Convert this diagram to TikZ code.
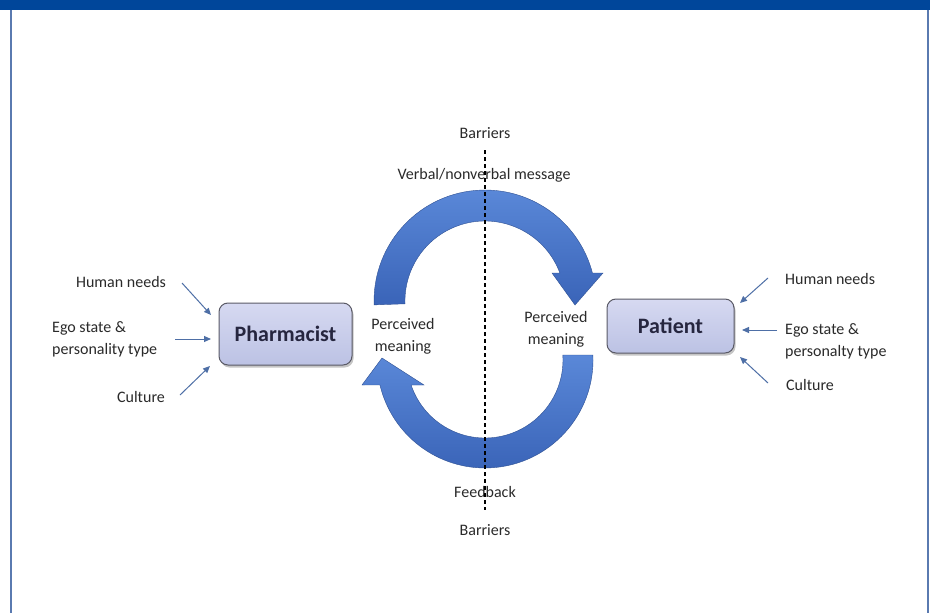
\documentclass[tikz,border=0pt]{standalone}
\usepackage{fontspec}
\setmainfont{Carlito}
\usetikzlibrary{arrows.meta,shadows}
\definecolor{hdr}{HTML}{00469A}
\definecolor{frame}{HTML}{5A7AB0}
\definecolor{arrblue}{HTML}{4472C4}
\definecolor{arrlight}{HTML}{5A88D8}
\definecolor{arrdark}{HTML}{3A64B8}
\definecolor{infl}{HTML}{4E6FA6}
\definecolor{boxfill}{HTML}{C9CDEA}
\definecolor{boxtop}{HTML}{D6D9F1}
\definecolor{boxbot}{HTML}{BCC2E4}
\definecolor{boxline}{HTML}{5A5A66}
\definecolor{txt}{HTML}{2A2A2A}
\begin{document}
\begin{tikzpicture}[x=1pt,y=-1pt,
  lbl/.style={font=\fontsize{16}{22}\selectfont, text=txt, inner sep=0pt},
  actor/.style={draw=boxline, line width=1pt, rounded corners=9pt,
    top color=boxtop, bottom color=boxbot, text=txt!90!blue,
    font=\fontsize{22}{26}\selectfont\bfseries,
    drop shadow={shadow xshift=1.5pt, shadow yshift=-2.5pt, opacity=0.45}},
  inflarrow/.style={draw=infl, line width=1pt, -{Triangle[length=7pt,width=6pt]}},
  bigarrow/.style={top color=arrlight, bottom color=arrdark, draw=arrdark!80!black, line width=0.4pt},
  barrierline/.style={draw=black, line width=1.3pt, dash pattern=on 4pt off 3pt}
]
\useasboundingbox (0,0) rectangle (930,613);
\fill[white] (0,0) rectangle (930,613);
% header and frame
\fill[hdr] (0,0) rectangle (930,10);
\draw[frame, line width=1.2pt] (11,10) -- (11,613);
\draw[frame, line width=1.2pt] (928,10) -- (928,613);

% big circular arrows
\path[bigarrow] (374.1,304.9) arc[start angle=178, end angle=345.39, radius=111]
  -- (603,273) -- (575,305) -- (552,273) -- (559.9,273)
  arc[start angle=339.51, end angle=178, radius=80] -- cycle;
\path[bigarrow] (592.9,355) arc[start angle=-2.65, end angle=166.62, radius=108]
  -- (362,385) -- (382,358) -- (424,385) -- (411.1,385)
  arc[start angle=161.31, end angle=-3.67, radius=78] -- cycle;

% actors
\node[actor, minimum width=133pt, minimum height=62pt] (pharm) at (285.5,334) {Pharmacist};
\node[actor, minimum width=127pt, minimum height=54pt] (pat) at (670.5,326) {Patient};

% texts around the loop
\node[lbl] (barT) at (485,133) {Barriers};
\node[lbl] (verbal) at (484,175) {Verbal/nonverbal message};
\node[lbl, align=center] (pmL) at (403,336) {Perceived\\meaning};
\node[lbl, align=center] (pmR) at (556,329) {Perceived\\meaning};
\node[lbl] (feed) at (485,492) {Feedback};
\node[lbl] (barB) at (485,530) {Barriers};

% barrier line
\coordinate (lineTop) at (485,150);
\coordinate (lineBot) at (485,510);
\draw[barrierline] (lineTop) -- (lineBot);

% left influences
\node[lbl] (hnL) at (121,282) {Human needs};
\node[lbl, align=left, anchor=west] (egoL) at (52,339) {Ego state \&\\personality type};
\node[lbl] (cuL) at (141,397) {Culture};
\coordinate (hnLs) at (182,283); \coordinate (hnLe) at (211,315);
\coordinate (egLs) at (175,339); \coordinate (egLe) at (211,339);
\coordinate (cuLs) at (180,395); \coordinate (cuLe) at (210,366);
\draw[inflarrow] (hnLs) -- (hnLe);
\draw[inflarrow] (egLs) -- (egLe);
\draw[inflarrow] (cuLs) -- (cuLe);

% right influences
\node[lbl, anchor=west] (hnR) at (785,279) {Human needs};
\node[lbl, align=left, anchor=west] (egoR) at (785,341) {Ego state \&\\personalty type};
\node[lbl, anchor=west] (cuR) at (786,385) {Culture};
\coordinate (hnRs) at (768,278); \coordinate (hnRe) at (740,303);
\coordinate (egRs) at (777,330); \coordinate (egRe) at (742,330);
\coordinate (cuRs) at (768,383); \coordinate (cuRe) at (740,357);
\draw[inflarrow] (hnRs) -- (hnRe);
\draw[inflarrow] (egRs) -- (egRe);
\draw[inflarrow] (cuRs) -- (cuRe);
\end{tikzpicture}
\end{document}
